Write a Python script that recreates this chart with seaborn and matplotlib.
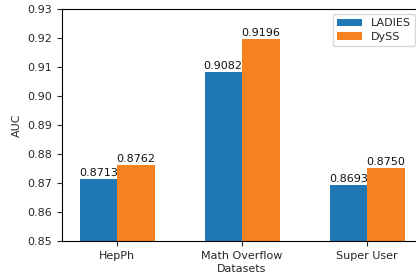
import matplotlib
matplotlib.use("Agg")
import matplotlib.pyplot as plt
import seaborn as sns
import pandas as pd
import numpy as np

datasets = ["HepPh", "Math Overflow", "Super User"]
methods = ["LADIES", "DySS"]
ladies = [0.8713, 0.9082, 0.8693]
dyss = [0.8762, 0.9196, 0.8750]
yticks = [0.85, 0.86, 0.87, 0.88, 0.89, 0.90, 0.91, 0.92, 0.93]

df = pd.DataFrame({
    "Datasets": datasets * 2,
    "Method": [methods[0]] * 3 + [methods[1]] * 3,
    "AUC": ladies + dyss,
})

sns.set_style("ticks")
plt.rcParams['font.family'] = ['DejaVu Sans']

W, H = 416, 274
fig = plt.figure(figsize=(W / 100, H / 100), dpi=100)
ax = fig.add_axes([62 / W, 1 - 241 / H, (422 - 62) / W, (241 - 9) / H])

sns.barplot(data=df, x="Datasets", y="AUC", hue="Method", ax=ax,
            palette=["#1f77b4", "#f5811f"], width=0.6, saturation=1.0,
            errorbar=None, legend=True, linewidth=0, edgecolor="none")

for c in ax.containers:
    ax.bar_label(c, fmt="%.4f", fontsize=8, padding=1, color="#111111")

ax.set_ylim(0.85, 0.93)
ax.set_yticks(yticks)
ax.set_yticklabels([f"{v:.2f}" for v in yticks])
ax.set_xlim(-0.44, 2.44)
ax.tick_params(labelsize=8, length=3.5, width=0.8)
ax.set_xlabel("Datasets", fontsize=8, labelpad=2)
ax.set_ylabel("AUC", fontsize=8, labelpad=4)
for s in ax.spines.values():
    s.set_linewidth(0.8)
    s.set_color("black")
ax.spines["right"].set_visible(False)

ax.legend(loc="upper right", bbox_to_anchor=(415 / W, 1 - 14 / H),
          bbox_transform=fig.transFigure, borderaxespad=0, fontsize=8,
          frameon=True, handlelength=2.2, borderpad=0.4, labelspacing=0.3)

fig.savefig("out.png", dpi=100)
